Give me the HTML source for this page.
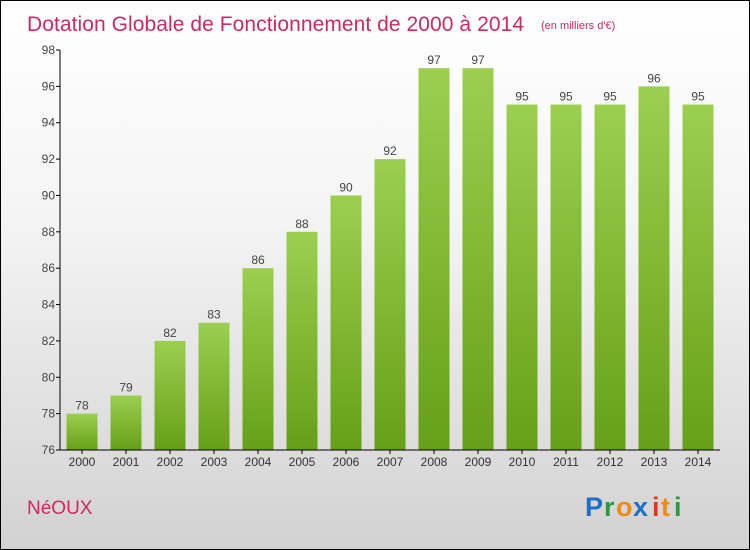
<!DOCTYPE html>
<html><head><meta charset="utf-8"><style>
html,body{margin:0;padding:0}
body{width:750px;height:550px;overflow:hidden;font-family:"Liberation Sans","DejaVu Sans",sans-serif}
#frame{position:absolute;left:0;top:0;width:748px;height:548px;border:1px solid #000;background:linear-gradient(#ffffff 0%,#f4f4f4 40%,#d2d2d2 100%)}
</style></head><body>
<div id="frame">
<svg width="750" height="550" style="position:absolute;left:-1px;top:-1px">
<defs><linearGradient id="bg" x1="0" y1="0" x2="0" y2="1"><stop offset="0" stop-color="#9ccf50"/><stop offset="1" stop-color="#66a017"/></linearGradient></defs>
<text x="27" y="31" font-size="21" fill="#cc2a63" textLength="497">Dotation Globale de Fonctionnement de 2000 à 2014</text>
<text x="541" y="29" font-size="11" fill="#cc2a63">(en milliers d'€)</text>
<g id="plot"></g>
<text x="27" y="514" font-size="19" fill="#cc2a63">NéOUX</text>
<g font-size="27" font-weight="bold">
<text x="585" y="516" fill="#1f6fc7">P</text><text x="604" y="516" fill="#2a9b3a">r</text><text x="616" y="516" fill="#f08a10">o</text><text x="633" y="516" fill="#1f6fc7">x</text><text x="652" y="516" fill="#e03a1a">i</text><text x="661" y="516" fill="#f08a10">t</text><text x="674" y="516" fill="#2a9b3a">i</text>
</g>
</svg></div>
<script>
const years=["2000","2001","2002","2003","2004","2005","2006","2007","2008","2009","2010","2011","2012","2013","2014"];
const values=[78,79,82,83,86,88,90,92,97,97,95,95,95,96,95];
const yTicks=[76,78,80,82,84,86,88,90,92,94,96,98];
const NS="http://www.w3.org/2000/svg";
const g=document.getElementById('plot');
const yMin=76,yMax=98,yTop=50,yBot=450,x0=60,x1=720;
const y=v=>yBot-(v-yMin)/(yMax-yMin)*(yBot-yTop);
const step=(x1-x0)/years.length;
const xc=i=>x0+step*(i+0.5);
function mk(t,a){const e=document.createElementNS(NS,t);for(const k in a)e.setAttribute(k,a[k]);g.appendChild(e);return e;}
years.forEach((yr,i)=>{
 const v=values[i],w=31;
 const r=mk('rect',{x:xc(i)-w/2,y:y(v),width:w,height:yBot-y(v),fill:'url(#bg)'});
 
 
 const vl=mk('text',{x:xc(i),y:y(v)-4,'font-size':12,fill:'#444','text-anchor':'middle'});
 vl.textContent=v;
 
 
 const tk=mk('line',{x1:xc(i),y1:yBot,x2:xc(i),y2:yBot+4,stroke:'#000'});
 
 
 const xl=mk('text',{x:xc(i),y:yBot+16,'font-size':12,fill:'#333','text-anchor':'middle'});
 xl.textContent=yr;
 
 
});
const ax=mk('line',{x1:x0,y1:yTop,x2:x0,y2:yBot,stroke:'#000'});


const bx=mk('line',{x1:x0,y1:yBot,x2:x1,y2:yBot,stroke:'#000'});


yTicks.forEach(v=>{
 const t=mk('line',{x1:x0-4,y1:y(v),x2:x0,y2:y(v),stroke:'#000'});
 
 
 const l=mk('text',{x:x0-5,y:y(v)+4,'font-size':12,fill:'#444','text-anchor':'end'});
 l.textContent=v;
 
 
});
</script>
</body></html>
